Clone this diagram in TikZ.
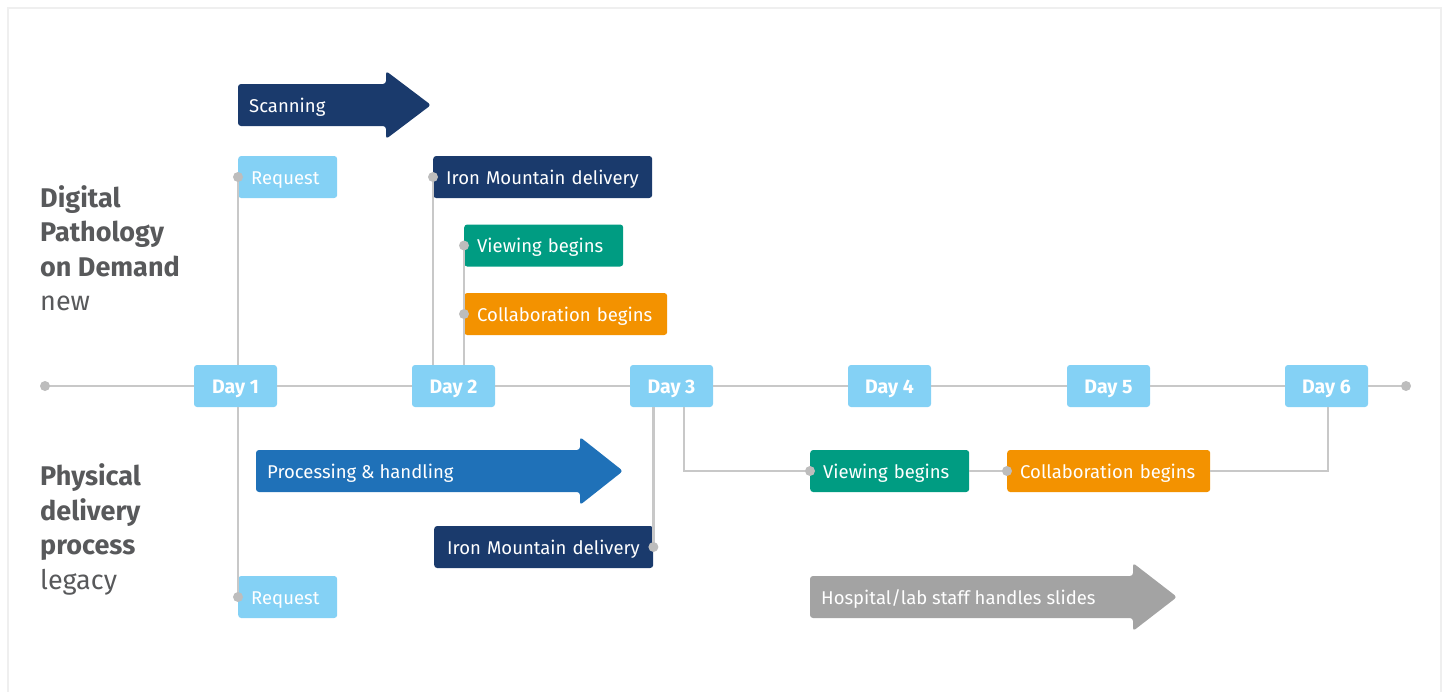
\documentclass[tikz,border=0pt]{standalone}
\usepackage{fontspec}
\setmainfont{Fira Sans}
\definecolor{lblue}{HTML}{84D1F5}
\definecolor{navy}{HTML}{1A3A6C}
\definecolor{teal}{HTML}{009C82}
\definecolor{orng}{HTML}{F39200}
\definecolor{mblue}{HTML}{1F71B8}
\definecolor{garrow}{HTML}{A3A3A3}
\definecolor{linec}{HTML}{C8C8C8}
\definecolor{dotc}{HTML}{BDBDBD}
\definecolor{txtc}{HTML}{58595B}
\definecolor{framec}{HTML}{EFEFEF}
\begin{document}
\begin{tikzpicture}[x=1pt,y=-1pt,
  box/.style={rounded corners=3pt, minimum height=42pt, inner xsep=13pt, inner ysep=0pt,
    anchor=west, text=white, font=\fontsize{18.5}{20}\selectfont, text width=#1, align=left,
    text height=14pt, text depth=0pt},
  daybox/.style={rounded corners=3pt, fill=lblue, minimum height=42pt, minimum width=83pt,
    inner sep=0pt, text=white, font=\fontsize{19.5}{20}\selectfont\bfseries,
    text height=15.5pt, text depth=0pt},
  conn/.style={draw=linec, line width=2.6pt},
  dot/.style={fill=dotc},
  arrowtxt/.style={anchor=west, text=white, font=\fontsize{18.5}{20}\selectfont, inner sep=0pt,
    text height=14pt, text depth=0pt},
  side/.style={anchor=north west, align=left, text=txtc, inner sep=0pt,
    font=\fontsize{27}{34.6}\selectfont}
]
\useasboundingbox (0,0) rectangle (1447,691);
\draw[framec, line width=2.5pt] (8,695) -- (8,8) -- (1441,8) -- (1441,695);

% side labels
\node[side] (dpod) at (40,185) {\textbf{Digital}\\\textbf{Pathology}\\\textbf{on Demand}\\new};
\node[side] (phys) at (40,463.5) {\textbf{Physical}\\\textbf{delivery}\\\textbf{process}\\legacy};

% timeline end points
\coordinate (tlL) at (45,386);
\coordinate (tlR) at (1406,386);

% day boxes
\node[daybox] (d1) at (235.5,386) {Day 1};
\node[daybox] (d2) at (453.5,386) {Day 2};
\node[daybox] (d3) at (671.5,386) {Day 3};
\node[daybox] (d4) at (889.5,386) {Day 4};
\node[daybox] (d5) at (1108.5,386) {Day 5};
\node[daybox] (d6) at (1326.5,386) {Day 6};

% arrows
\fill[navy, rounded corners=3pt] (238,84) -- (386,84) -- (386,71) -- (431,105) -- (386,139) -- (386,126) -- (238,126) -- cycle;
\node[arrowtxt] (scan) at (249,105) {Scanning};
\fill[mblue, rounded corners=3pt] (256,450) -- (580,450) -- (580,437) -- (623,471) -- (580,505) -- (580,492) -- (256,492) -- cycle;
\node[arrowtxt] (proc) at (267,471) {Processing \& handling};
\fill[garrow, rounded corners=3pt] (810,576) -- (1133,576) -- (1133,563) -- (1177,597) -- (1133,631) -- (1133,618) -- (810,618) -- cycle;
\node[arrowtxt] (hosp) at (821,597) {Hospital/lab staff handles slides};

% event boxes (top)
\node[box=73pt, fill=lblue] (reqT) at (238,177) {Request};
\node[box=193pt, fill=navy] (imT) at (433,177) {Iron Mountain delivery};
\node[box=133pt, fill=teal] (viewT) at (464,245.5) {Viewing begins};
\node[box=177pt, fill=orng] (collT) at (464,314) {Collaboration begins};

% event boxes (bottom)
\node[box=73pt, fill=lblue] (reqB) at (238,597) {Request};
\node[box=193pt, fill=navy] (imB) at (434,547) {Iron Mountain delivery};
\node[box=133pt, fill=teal] (viewB) at (810,471) {Viewing begins};
\node[box=177pt, fill=orng] (collB) at (1007,471) {Collaboration begins};

% connectors
\path[conn] (tlL) -- (d1.west) (d1.east) -- (d2.west) (d2.east) -- (d3.west)
  (d3.east) -- (d4.west) (d4.east) -- (d5.west) (d5.east) -- (d6.west) (d6.east) -- (tlR);
\path[conn] (reqT.west) -- (reqT.west |- d1.north);
\path[conn] (imT.west) -- (imT.west |- d2.north);
\path[conn] (viewT.west) -- (viewT.west |- d2.north);
\path[conn] (reqB.west) -- (reqB.west |- d1.south);
\path[conn] (imB.east) -- (imB.east |- d3.south);
\path[conn] (viewB.west) -| ([xshift=12.5pt]d3.south);
\path[conn] (viewB.east) -- (collB.west);
\path[conn] (collB.east) -| ([xshift=1.5pt]d6.south);

% dots
\foreach \p in {tlL,tlR,reqT.west,imT.west,viewT.west,collT.west,reqB.west,imB.east,viewB.west,collB.west}
  \fill[dot] (\p) circle (5pt);
\end{tikzpicture}
\end{document}
